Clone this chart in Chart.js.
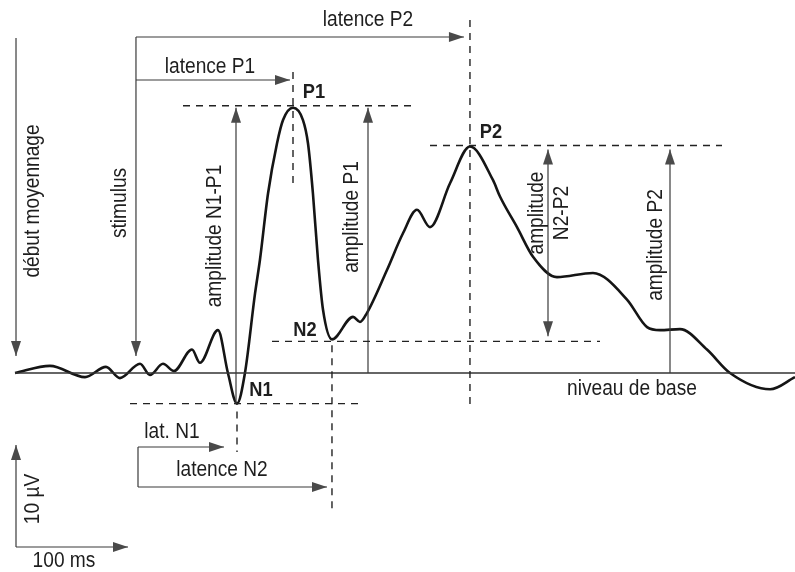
<!DOCTYPE html>
<html>
<head>
<meta charset="utf-8">
<script src="https://cdn.jsdelivr.net/npm/chart.js@4"></script>
<style>
  html, body { margin: 0; padding: 0; background: #fff; }
  #wrap { width: 795px; height: 572px; }
</style>
</head>
<body>
<div id="wrap"><canvas id="epChart"></canvas></div>
<script>
// waveform: time in ms (0 = stimulus), amplitude in µV
const timeMs = [-108, -76.8, -45.5, -26.8, -14.3, 3.6, 12.5, 24.1, 33.9, 50, 57.1, 73.2,
  82.1, 90.2, 97.3, 106.3, 110.7, 117.9, 125.9, 131.3, 140.2, 149.1, 153.6, 158, 162.5, 167, 175,
  193.8, 200, 206.3, 224.1, 238.4, 250.9, 262.5, 280.4, 298.2, 318.8, 325, 340.2,
  354.5, 375.9, 408, 438.4, 456.3, 467.9, 485.7, 509.8, 530.4, 566.1, 588.4];
const amplitudeUv = [0, 0.7, -0.4, 0.6, -0.5, 0.9, -0.2, 0.9, 0.2, 2.3, 1.0, 4.2,
  0, -3.0, 0, 7.8, 11.1, 17.6, 22.5, 24.8, 26.0, 24.8, 22.5, 17.6, 11.1, 6.2, 3.3,
  5.5, 5.0, 5.9, 10.1, 13.7, 16.0, 14.3, 18.6, 22.2, 18.9, 17.3, 14.3,
  11.4, 9.4, 9.8, 7.2, 4.5, 4.2, 4.3, 2.3, 0, -1.6, -0.4];

// peaks
const peakNames = ['N1', 'P1', 'N2', 'P2'];
const peakLatency = [90.2, 140.2, 175, 298.2];
const peakAmplitude = [-3.0, 26.0, 3.3, 22.2];

// calibration bars
const scaleBarMs = 100;
const scaleBarUv = 10;

const FONT = "'Liberation Sans', Arial, sans-serif";

const annotations = {
  id: 'annotations',
  afterDatasetsDraw(chart) {
    const c = chart.ctx;
    const xs = chart.scales.x, ys = chart.scales.y;
    const X = v => xs.getPixelForValue(v);
    const Y = v => ys.getPixelForValue(v);
    const pk = {};
    peakNames.forEach((n, i) => { pk[n] = { x: X(peakLatency[i]), y: Y(peakAmplitude[i]) }; });
    const x0 = X(timeMs[0]), xStim = X(0), yBase = Y(0);

    function line(x1, y1, x2, y2, dashed) {
      c.save();
      c.strokeStyle = dashed ? '#222' : '#3a3a3a';
      c.lineWidth = dashed ? 1.4 : 1.2;
      c.setLineDash(dashed ? [7, 6] : []);
      c.beginPath(); c.moveTo(x1, y1); c.lineTo(x2, y2); c.stroke();
      c.restore();
    }
    function head(x, y, ang) {
      c.save();
      c.translate(x, y); c.rotate(ang);
      c.fillStyle = '#4a4a4a';
      c.beginPath(); c.moveTo(0, 0); c.lineTo(-15, -5); c.lineTo(-15, 5); c.closePath(); c.fill();
      c.restore();
    }
    function arrow(x1, y1, x2, y2, both) {
      line(x1, y1, x2, y2);
      const a = Math.atan2(y2 - y1, x2 - x1);
      head(x2, y2, a);
      if (both) head(x1, y1, a + Math.PI);
    }
    // condensed look: squeeze the glyphs along the text direction
    function text(s, x, y, opts) {
      opts = opts || {};
      c.save();
      c.fillStyle = '#1e1e1e';
      c.font = (opts.bold ? 'bold ' : '') + (opts.size || 22) + 'px ' + FONT;
      c.textAlign = 'center'; c.textBaseline = 'middle';
      c.translate(x, y);
      if (opts.rot) c.rotate(-Math.PI / 2);
      c.scale(0.87, 1);
      c.fillText(s, 0, 0);
      c.restore();
    }

    // baseline
    c.save(); c.strokeStyle = '#333'; c.lineWidth = 1.6;
    c.beginPath(); c.moveTo(x0, yBase); c.lineTo(chart.width, yBase); c.stroke(); c.restore();

    // début moyennage + stimulus
    arrow(x0 + 1, 38, x0 + 1, yBase - 17);
    arrow(xStim, 37, xStim, yBase - 17);
    text('début moyennage', x0 + 18, 201, { rot: true });
    text('stimulus', xStim - 16, 203, { rot: true });

    // latencies above
    arrow(xStim, 37, pk.P2.x - 6, 37);
    arrow(xStim, 80, pk.P1.x - 3, 80);
    text('latence P2', 368, 20);
    text('latence P1', 210, 67);

    // P1
    line(pk.P1.x, 72, pk.P1.x, 186, true);
    line(183, pk.P1.y - 2, 416, pk.P1.y - 2, true);
    text('P1', 314, 92, { bold: true, size: 21 });

    // N1
    line(130, pk.N1.y, 362, pk.N1.y, true);
    line(pk.N1.x, pk.N1.y + 8, pk.N1.x, 452, true);
    text('N1', 261, 390, { bold: true, size: 21 });
    arrow(pk.N1.x - 1, pk.N1.y, pk.N1.x - 1, pk.P1.y);
    text('amplitude N1-P1', 215, 236, { rot: true });

    // amplitude P1
    arrow(368, yBase, 368, pk.P1.y);
    text('amplitude P1', 352, 217, { rot: true });

    // N2
    line(272, pk.N2.y + 2, 600, pk.N2.y + 2, true);
    line(pk.N2.x, pk.N2.y + 6, pk.N2.x, 512, true);
    text('N2', 305, 330, { bold: true, size: 21 });

    // P2
    line(pk.P2.x, 20, pk.P2.x, 410, true);
    line(430, pk.P2.y - 1, 722, pk.P2.y - 1, true);
    text('P2', 491, 132, { bold: true, size: 21 });
    arrow(548, pk.N2.y - 3, 548, pk.P2.y + 3, true);
    text('amplitude', 537, 213, { rot: true });
    text('N2-P2', 562, 213, { rot: true });
    arrow(670, yBase, 670, pk.P2.y + 3);
    text('amplitude P2', 656, 245, { rot: true });

    text('niveau de base', 632, 389);

    // latencies below
    line(138, 447, 138, 487);
    arrow(138, 447, pk.N1.x - 13, 447);
    arrow(138, 487, pk.N2.x - 5, 487);
    text('lat. N1', 172, 432);
    text('latence N2', 222, 470);

    // calibration
    const bx = 16, by = 547;
    const bw = X(scaleBarMs) - X(0), bh = Y(0) - Y(scaleBarUv);
    arrow(bx, by, bx, by - bh);
    arrow(bx, by, bx + bw, by);
    text('10 µV', 33, 499, { rot: true });
    text('100 ms', 64, 561);
  }
};

new Chart(document.getElementById('epChart'), {
  type: 'line',
  data: {
    datasets: [{
      data: timeMs.map((t, i) => ({ x: t, y: amplitudeUv[i] })),
      borderColor: '#151515',
      borderWidth: 2.6,
      pointRadius: 0,
      cubicInterpolationMode: 'monotone',
      fill: false
    }]
  },
  options: {
    responsive: true,
    maintainAspectRatio: false,
    animation: false,
    layout: { padding: 0 },
    plugins: { legend: { display: false }, tooltip: { enabled: false } },
    scales: {
      x: { type: 'linear', display: false, min: -121.4, max: 588.4 },
      y: { display: false, min: -19.51, max: 36.57 }
    }
  },
  plugins: [annotations]
});
</script>
</body>
</html>
